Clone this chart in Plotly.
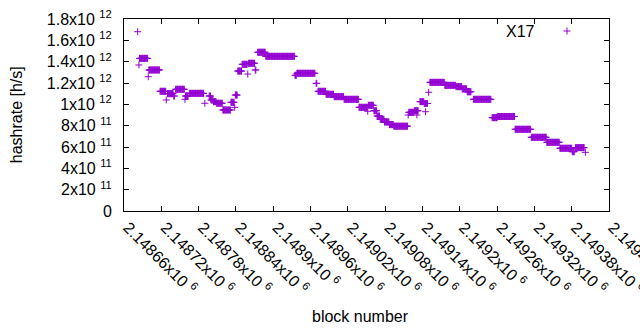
import numpy as np
import plotly.graph_objects as go

# Step runs: first block, last block, hashrate (x1e12 h/s)
seg_start = [2148682, 2148684, 2148685, 2148699, 2148700, 2148718, 2148728, 2148730,
             2148740, 2148743, 2148758, 2148759, 2148765, 2148790, 2148797, 2148800,
             2148804, 2148809, 2148819, 2148832, 2148838, 2148839, 2148843, 2148850,
             2148859, 2148860, 2148871, 2148875, 2148888, 2148935, 2148938, 2148969,
             2148972, 2148985, 2148998, 2149014, 2149038, 2149052, 2149053, 2149062,
             2149067, 2149072, 2149079, 2149087, 2149094, 2149117, 2149118, 2149127,
             2149131, 2149136, 2149143, 2149145, 2149150, 2149152, 2149176, 2149194,
             2149204, 2149212, 2149222, 2149252, 2149261, 2149289, 2149315, 2149340,
             2149361, 2149381, 2149386, 2149402]
seg_end = [2148682, 2148684, 2148698, 2148699, 2148717, 2148727, 2148728, 2148739,
           2148741, 2148757, 2148758, 2148763, 2148788, 2148790, 2148799, 2148803,
           2148808, 2148818, 2148831, 2148837, 2148838, 2148842, 2148849, 2148858,
           2148859, 2148870, 2148872, 2148887, 2148934, 2148937, 2148967, 2148970,
           2148984, 2148997, 2149013, 2149037, 2149051, 2149052, 2149061, 2149066,
           2149071, 2149078, 2149086, 2149093, 2149116, 2149117, 2149126, 2149133,
           2149131, 2149142, 2149148, 2149145, 2149150, 2149175, 2149193, 2149203,
           2149211, 2149218, 2149250, 2149260, 2149288, 2149314, 2149339, 2149360,
           2149380, 2149384, 2149400, 2149402]
seg_value = [1.681, 1.369, 1.431, 1.259, 1.322, 1.122, 1.041, 1.100,
             1.078, 1.141, 1.047, 1.078, 1.103, 1.010, 1.078, 1.041,
             1.025, 1.010, 0.947, 1.019, 0.972, 1.087, 1.312, 1.375,
             1.284, 1.385, 1.322, 1.488, 1.450, 1.272, 1.291, 1.197,
             1.122, 1.094, 1.072, 1.047, 0.972, 0.935, 0.991, 0.940,
             0.890, 0.860, 0.835, 0.810, 0.795, 0.900, 0.925, 0.940,
             0.900, 1.025, 1.008, 0.931, 1.113, 1.206, 1.178, 1.166,
             1.145, 1.118, 1.047, 0.875, 0.886, 0.766, 0.691, 0.644,
             0.588, 0.556, 0.594, 0.550]

x_tickvals = [2148660 + 60 * i for i in range(14)]
x_ticktext = ["2.14866", "2.14872", "2.14878", "2.14884", "2.1489", "2.14896", "2.14902",
              "2.14908", "2.14914", "2.1492", "2.14926", "2.14932", "2.14938", "2.14944"]
y_tickvals = [0, 2e11, 4e11, 6e11, 8e11, 1e12, 1.2e12, 1.4e12, 1.6e12, 1.8e12]
y_ticktext = ["0", "2x10 <sup>11</sup>", "4x10 <sup>11</sup>", "6x10 <sup>11</sup>",
              "8x10 <sup>11</sup>", "1x10 <sup>12</sup>", "1.2x10 <sup>12</sup>",
              "1.4x10 <sup>12</sup>", "1.6x10 <sup>12</sup>", "1.8x10 <sup>12</sup>"]

blocks = []
rates = []
for s, e, v in zip(seg_start, seg_end, seg_value):
    for b in range(s, e + 1):
        blocks.append(b)
        rates.append(v * 1e12)

COLOR = "#9400D3"
FONT = "Liberation Sans, Arial, sans-serif"
FS = 16
marker = dict(symbol="cross-thin", size=5, color=COLOR, line=dict(color=COLOR, width=1))

fig = go.Figure()
fig.add_trace(go.Scatter(x=blocks, y=rates, mode="markers", marker=marker,
                         showlegend=False, hoverinfo="skip"))
# legend key sample on an invisible overlay axis
fig.add_trace(go.Scatter(x=[0.9134], y=[0.9375], mode="markers", marker=marker,
                         xaxis="x2", yaxis="y2", showlegend=False, hoverinfo="skip"))

fig.update_layout(
    width=640, height=330,
    margin=dict(l=124, r=31, t=19, b=119, pad=0),
    paper_bgcolor="white", plot_bgcolor="white",
    font=dict(family=FONT, size=FS, color="black"),
    hovermode=False,
    xaxis=dict(range=[2148660, 2149440], tickvals=x_tickvals,
               ticktext=[t + "x10 <sup>6</sup>" for t in x_ticktext],
               tickangle=45, ticks="inside", ticklen=5, tickcolor="black",
               showline=True, linecolor="black", linewidth=1, mirror="ticks",
               showgrid=False, zeroline=False, automargin=False,
               ticklabeloverflow="allow", ticklabelshift=4),
    yaxis=dict(range=[0, 1.8e12], tickvals=y_tickvals, ticktext=y_ticktext,
               ticks="inside", ticklen=5, tickcolor="black",
               showline=True, linecolor="black", linewidth=1, mirror="ticks",
               showgrid=False, zeroline=False, ticklabelstandoff=8, automargin=False),
    xaxis2=dict(range=[0, 1], overlaying="x", visible=False),
    yaxis2=dict(range=[0, 1], overlaying="y", visible=False),
    annotations=[
        dict(text="block number", xref="paper", yref="paper", x=0.4874, y=-0.547,
             xanchor="center", yanchor="middle", showarrow=False, font=dict(size=FS)),
        dict(text="hashrate [h/s]", xref="paper", yref="paper", x=-0.2223, y=0.5,
             xanchor="center", yanchor="middle", textangle=-90, showarrow=False,
             font=dict(size=FS)),
        dict(text="X17", xref="paper", yref="paper", x=0.851, y=0.935,
             xanchor="right", yanchor="middle", showarrow=False, font=dict(size=FS)),
    ],
)

fig.write_html("out.html", config={"displayModeBar": False, "staticPlot": True},
               post_script="document.body.style.margin='0';document.body.style.overflow='hidden';")
